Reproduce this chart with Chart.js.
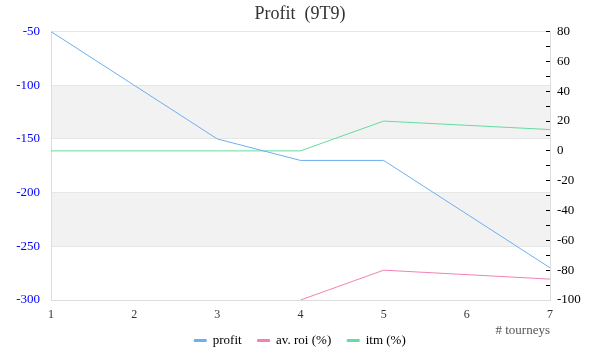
<!DOCTYPE html>
<html>
<head>
<meta charset="utf-8">
<script src="https://cdn.jsdelivr.net/npm/chart.js@4"></script>
<style>
  html, body { margin: 0; padding: 0; background: #fff; }
  #wrap { width: 600px; height: 360px; }
</style>
</head>
<body>
<div id="wrap"><canvas id="profit"></canvas></div>
<script>
const tourneys = [1, 3, 4, 5, 7];
const profitData = [-50, -150, -170, -170, -270];
const roiData = [null, null, -100, -80, -86];
const itmData = [0, 0, 0, 20, 14.3];
// shaded bands on the left axis
const bands = [[-100, -150], [-200, -250]];

const serif = "'Liberation Serif', 'DejaVu Serif', serif";

function pts(values) {
  return tourneys.map((t, i) => ({ x: t, y: values[i] }));
}

const bandPlugin = {
  id: "bands",
  beforeDraw: (chart) => {
    const ctx = chart.ctx;
    const y = chart.scales.y;
    const { left, right } = chart.chartArea;
    ctx.save();
    ctx.fillStyle = "#f2f2f2";
    for (let i = 0; i < bands.length; i++) {
      const a = y.getPixelForValue(bands[i][0]);
      const b = y.getPixelForValue(bands[i][1]);
      ctx.fillRect(left, a, right - left, b - a);
    }
    ctx.restore();
  },
};

new Chart(document.getElementById("profit"), {
  type: "line",
  plugins: [bandPlugin],
  data: {
    datasets: [
      {
        label: "profit",
        data: pts(profitData),
        yAxisID: "y",
        borderColor: "rgb(110, 175, 240)",
        backgroundColor: "rgb(110, 175, 240)",
        borderWidth: 1,
        pointRadius: 0,
      },
      {
        label: "av. roi (%)",
        data: pts(roiData),
        yAxisID: "y2",
        borderColor: "rgb(240, 130, 180)",
        backgroundColor: "rgb(240, 130, 180)",
        borderWidth: 1,
        pointRadius: 0,
      },
      {
        label: "itm (%)",
        data: pts(itmData),
        yAxisID: "y2",
        borderColor: "rgb(100, 220, 160)",
        backgroundColor: "rgb(100, 220, 160)",
        borderWidth: 1,
        pointRadius: 0,
      },
    ],
  },
  options: {
    responsive: true,
    maintainAspectRatio: false,
    animation: false,
    layout: { padding: { left: 0, right: 0, top: 0, bottom: 3 } },
    scales: {
      x: {
        type: "linear",
        min: 1,
        max: 7,
        afterFit: (scale) => { scale.height = 18; },
        grid: { display: false, drawTicks: false },
        border: { color: "#dddddd" },
        ticks: {
          stepSize: 1,
          color: "#333",
          padding: 8,
          font: { family: serif, size: 12 },
        },
        title: {
          display: true,
          text: "# tourneys",
          align: "end",
          color: "#555",
          padding: { top: 0, bottom: -20 },
          font: { family: serif, size: 13 },
        },
      },
      y: {
        position: "left",
        min: -300,
        max: -50,
        afterFit: (scale) => { scale.width = 51; },
        grid: { color: "#e6e6e6", drawTicks: false },
        border: { color: "#dddddd" },
        ticks: {
          stepSize: 50,
          color: "#0000ff",
          padding: 11,
          font: { family: serif, size: 13 },
        },
      },
      y2: {
        position: "right",
        min: -100,
        max: 80,
        afterFit: (scale) => { scale.width = 50; },
        grid: {
          drawOnChartArea: false,
          tickLength: -4,
          tickColor: "#000",
        },
        border: { color: "#dddddd" },
        ticks: {
          stepSize: 10,
          autoSkip: false,
          color: "#000",
          padding: 11,
          font: { family: serif, size: 13 },
          callback: (v) => (v % 20 === 0 ? v : ""),
        },
      },
    },
    plugins: {
      title: {
        display: true,
        text: "Profit  (9T9)",
        color: "#333",
        padding: { top: 3, bottom: 7 },
        font: { family: serif, size: 18, weight: "normal" },
      },
      legend: {
        position: "bottom",
        labels: {
          boxWidth: 12,
          boxHeight: 2,
          padding: 16,
          color: "#000",
          font: { family: serif, size: 13 },
        },
      },
      tooltip: { enabled: false },
    },
  },
});
</script>
</body>
</html>
